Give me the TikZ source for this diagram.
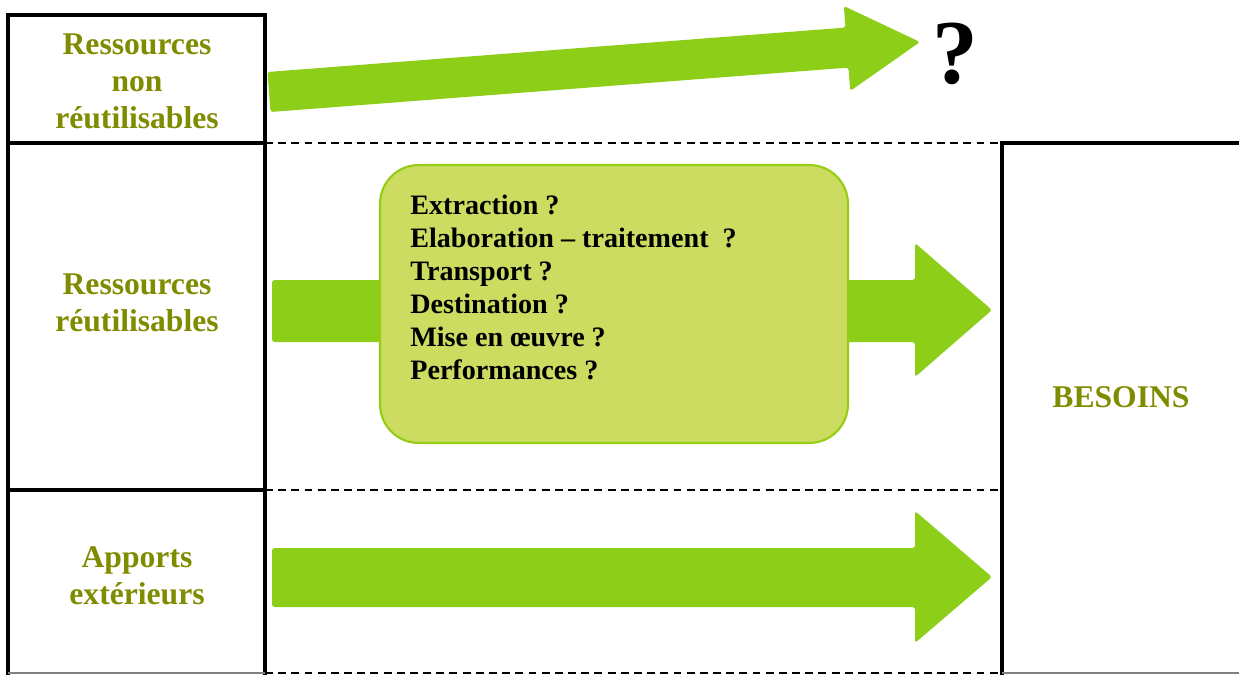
\documentclass[tikz,border=0pt]{standalone}
\usepackage{fontspec}
\setmainfont{Liberation Serif}
\usepackage{tikz}
\usetikzlibrary{positioning}
\usepackage{xcolor}
\definecolor{labelOlive}{RGB}{128, 140, 0}
\definecolor{arrowGreen}{RGB}{140, 206, 24}
\definecolor{stepsBg}{RGB}{203, 220, 96}
\definecolor{stepsEdge}{RGB}{150, 205, 20}

\tikzset{
  frame/.style={line width=1.8pt, line cap=rect},
  sepline/.style={line width=1.4pt, dash pattern=on 4.5pt off 3pt},
  bigarrow/.style={fill=arrowGreen, draw=none, rounded corners=1.5pt},
  lbl/.style={font=\bfseries\fontsize{18}{21}\selectfont, text=labelOlive, align=center}
}

\begin{document}
\begin{tikzpicture}[x=0.02cm, y=-0.02cm]
  \useasboundingbox (0,0) rectangle (1239,675);
  % frames and separators
  \draw[frame] (265,673) -- (265,15) -- (8,15) -- (8,673);
  \draw[frame] (8,143) -- (265,143);
  \draw[frame] (8,490) -- (265,490);
  \draw[frame] (1239,143) -- (1002,143) -- (1002,673);
  \draw[gray, line width=0.8pt] (8,673) -- (265,673) (1002,673) -- (1239,673);
  \draw[sepline] (265,143) -- (1002,143);
  \draw[sepline] (265,490) -- (1002,490);
  \draw[sepline] (265,673) -- (1002,673);

  % left labels
  \node[lbl] (nonreuse) at (137,81) {Ressources\\non\\réutilisables};
  \node[lbl] (reuse) at (137,303) {Ressources\\réutilisables};
  \node[lbl] (apports) at (137,576) {Apports\\extérieurs};
  \node[lbl] (besoins) at (1121,397) {BESOINS};
  \node[font=\bfseries\fontsize{52}{60}\selectfont] (qmark) at (955,54) {?};

  % block arrows
  \fill[bigarrow] (267.5,72) -- (845.5,27.6) -- (843.8,6) -- (920,42)
    -- (850.2,91) -- (848.5,67.6) -- (270.5,112) -- cycle;
  \fill[bigarrow] (272,280) -- (915,280) -- (915,243) -- (992,310)
    -- (915,377) -- (915,342) -- (272,342) -- cycle;
  \fill[bigarrow] (272,548) -- (915,548) -- (915,511) -- (992,577)
    -- (915,643) -- (915,607) -- (272,607) -- cycle;

  % questions box
  \node[draw=stepsEdge, fill=stepsBg, line width=1.2pt, rounded corners=22pt,
        minimum width=9.36cm, minimum height=5.56cm] (steps) at (614,304) {};
  \node[anchor=north west, inner sep=0pt, align=left,
        font=\bfseries\fontsize{16}{18.7}\selectfont] (stepsText) at (410,195)
    {Extraction ?\\
     Elaboration -- traitement~~?\\
     Transport ?\\
     Destination ?\\
     Mise en œuvre ?\\
     Performances ?};
\end{tikzpicture}
\end{document}
